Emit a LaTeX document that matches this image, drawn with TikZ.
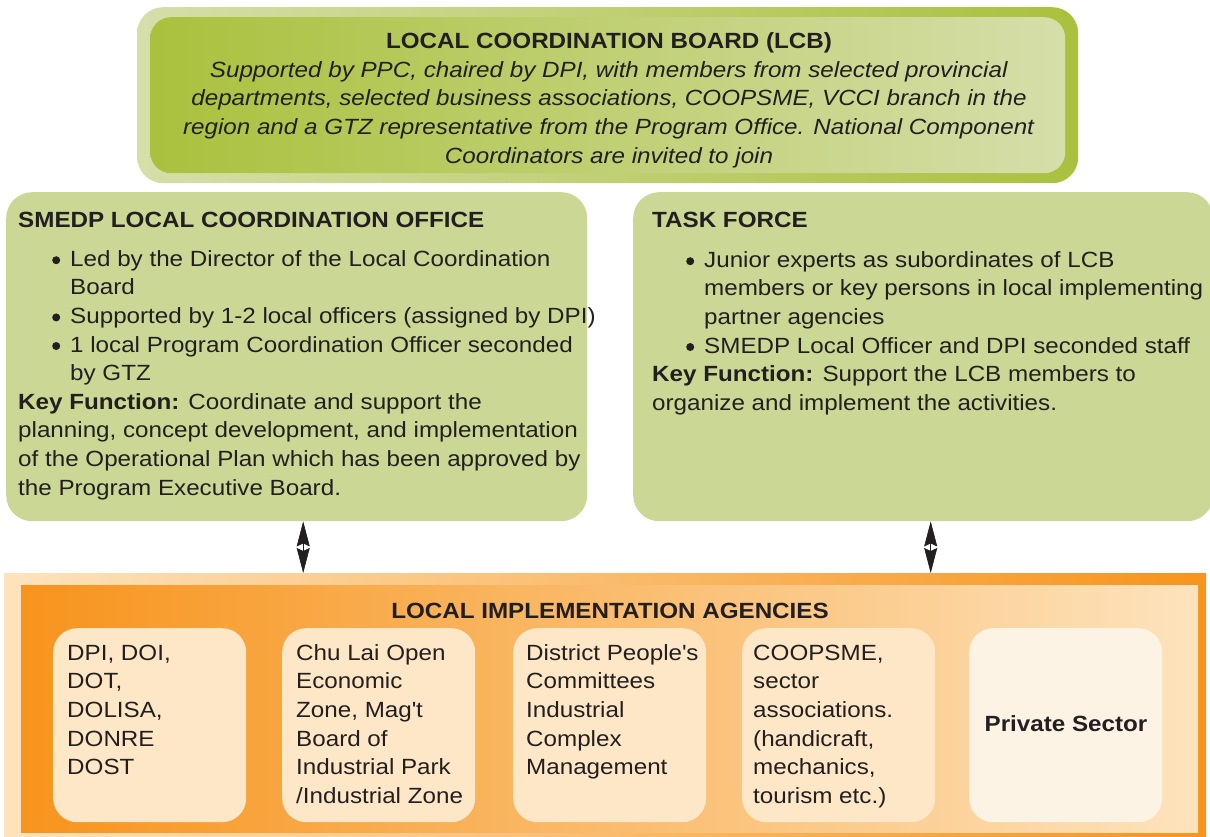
\documentclass[tikz,border=0pt]{standalone}
\usepackage{fontspec}
\setmainfont{Liberation Sans}[FakeStretch=1.1]
\usetikzlibrary{arrows.meta}
\definecolor{txt}{HTML}{231F20}
\definecolor{gLight}{HTML}{D6DEAA}
\definecolor{gDark}{HTML}{A9C13D}
\definecolor{gMid}{HTML}{CBD795}
\definecolor{oLight}{HTML}{FDE3BD}
\definecolor{oDark}{HTML}{F7941D}
\definecolor{peach}{HTML}{FEE7C6}
\definecolor{cream}{HTML}{FDF3E5}
\newcommand{\bodyfont}{\fontsize{22}{28.6}\selectfont}
\newcommand{\bul}[1]{\hspace*{#1}\makebox[18pt][l]{\tikz[baseline=0pt,x=1pt,y=1pt]\fill[txt] (4,6) circle[radius=4];}}
\tikzset{
  panel/.style={draw=none, inner sep=0pt, rounded corners=#1},
  txtblock/.style={anchor=north west, inner sep=0pt, align=left, font=\bodyfont, text=txt},
  agency/.style={panel=24pt, fill=peach, minimum width=193pt, minimum height=194pt, anchor=north west},
  link/.style={line width=0.6pt, draw=txt, fill=txt,
    {Stealth[length=25pt,width=13pt,inset=3pt]}-{Stealth[length=25pt,width=13pt,inset=3pt]}}
}
\begin{document}
\begin{tikzpicture}[x=1pt,y=-1pt]
\useasboundingbox[fill=white] (0,0) rectangle (1210,837);

% LCB
\node[panel=26pt, shade, left color=gLight, right color=gDark, minimum width=941pt, minimum height=176pt, anchor=north west] (lcbo) at (137,7) {};
\node[panel=21pt, shade, left color=gDark, right color=gLight, minimum width=915pt, minimum height=156pt, anchor=north west] (lcb) at (150,17) {};
\node[anchor=north, inner sep=0pt, align=center, font=\bodyfont, text=txt] (lcbt) at (609,28.5)
 {\strut\textbf{LOCAL COORDINATION BOARD (LCB)}\\
  \textit{Supported by PPC, chaired by DPI, with members from selected provincial}\\
  \textit{departments, selected business associations, COOPSME, VCCI branch in the}\\
  \textit{region and a GTZ representative from the Program Office. National Component}\\
  \textit{Coordinators are invited to join}};

% middle boxes
\node[panel=26pt, fill=gMid, minimum width=581pt, minimum height=329pt, anchor=north west] (smedp) at (6,192) {};
\node[panel=26pt, fill=gMid, minimum width=580pt, minimum height=329pt, anchor=north west] (task) at (633,192) {};

\node[txtblock] (smedpt) at (18,207)
 {\strut\textbf{SMEDP LOCAL COORDINATION OFFICE}\\[10.4pt]
  \bul{34pt}Led by the Director of the Local Coordination\\
  \hspace*{52pt}Board\\
  \bul{34pt}Supported by 1-2 local officers (assigned by DPI)\\
  \bul{34pt}1 local Program Coordination Officer seconded\\
  \hspace*{52pt}by GTZ\\
  \textbf{Key Function:} Coordinate and support the\\
  planning, concept development, and implementation\\
  of the Operational Plan which has been approved by\\
  the Program Executive Board.};

\node[txtblock] (taskt) at (652,207)
 {\strut\textbf{TASK FORCE}\\[11.4pt]
  \bul{34pt}Junior experts as subordinates of LCB\\
  \hspace*{52pt}members or key persons in local implementing\\
  \hspace*{52pt}partner agencies\\
  \bul{34pt}SMEDP Local Officer and DPI seconded staff\\
  \textbf{Key Function:} Support the LCB members to\\
  organize and implement the activities.};

% implementation agencies
\node[inner sep=0pt, shade, left color=oLight, right color=oDark, minimum width=1202pt, minimum height=264pt, anchor=north west] (liao) at (4,573) {};
\node[inner sep=0pt, shade, left color=oDark, right color=oLight, minimum width=1177pt, minimum height=247pt, anchor=north west] (lia) at (21,585) {};
\node[anchor=base, inner sep=0pt, font=\bodyfont\bfseries, text=txt] (liat) at (610,618) {LOCAL IMPLEMENTATION AGENCIES};

\node[agency] (a1) at (53,628) {};
\node[agency] (a2) at (282,628) {};
\node[agency] (a3) at (513,628) {};
\node[agency] (a4) at (742,628) {};
\node[agency, fill=cream] (a5) at (969,628) {};

\node[txtblock] (a1t) at (67,640) {\strut DPI, DOI,\\DOT,\\DOLISA,\\DONRE\\DOST};
\node[txtblock] (a2t) at (296,640) {\strut Chu Lai Open\\Economic\\Zone, Mag\textquotesingle t\\Board of\\Industrial Park\\/Industrial Zone};
\node[txtblock] (a3t) at (526,640) {\strut District People\textquotesingle s\\Committees\\Industrial\\Complex\\Management};
\node[txtblock] (a4t) at (753,640) {\strut COOPSME,\\sector\\associations.\\(handicraft,\\mechanics,\\tourism etc.)};
\node[anchor=base, inner sep=0pt, font=\bodyfont\bfseries, text=txt] (a5t) at (1066,731) {Private Sector};

% links
\draw[link] ([xshift=6.5pt]smedp.south) -- ([xshift=6.5pt]smedp.south |- liao.north);
\draw[link] ([xshift=7.5pt]task.south) -- ([xshift=7.5pt]task.south |- liao.north);
\end{tikzpicture}
\end{document}
